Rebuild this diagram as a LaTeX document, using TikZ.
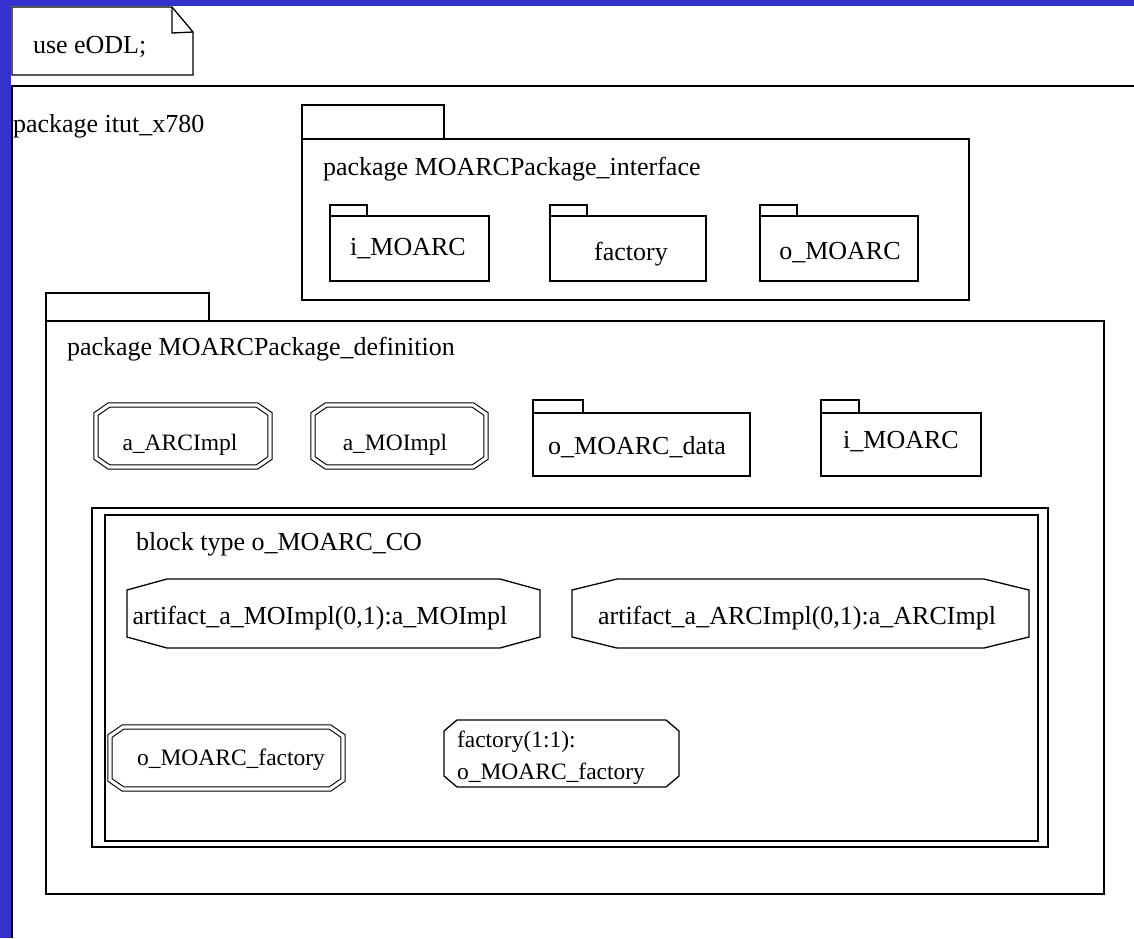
\documentclass[tikz,border=0pt]{standalone}
\usepackage{fontspec}
\setmainfont{Liberation Serif}
\definecolor{bgblue}{RGB}{51,51,204}
\newcommand\octo[4][]{\draw[#1] ([xshift=#3]#2.north west) -- ([xshift=-#3]#2.north east) -- ([yshift=-#4]#2.north east) -- ([yshift=#4]#2.south east) -- ([xshift=-#3]#2.south east) -- ([xshift=#3]#2.south west) -- ([yshift=#4]#2.south west) -- ([yshift=-#4]#2.north west) -- cycle;}
\begin{document}
\begin{tikzpicture}[x=1pt,y=-1pt,
  line width=1.3pt,
  every node/.style={font=\fontsize{26}{30}\selectfont, inner sep=0pt, outer sep=0pt},
  lbl/.style={anchor=base west},
  clbl/.style={anchor=base},
  smallclbl/.style={anchor=base, font=\fontsize{23.5}{30}\selectfont},
  box/.style={draw, rectangle, anchor=north west},
  area/.style={rectangle},
  dbl/.style={double, double distance=3.2pt, line width=1.1pt}
]
\useasboundingbox (0,0) rectangle (1134,938);
\fill[bgblue] (0,0) rectangle (1134,938);
\fill[white] (11,6) rectangle (1134,938);

% note
\coordinate (n1) at (12,7);
\coordinate (n2) at (172,7);
\coordinate (n3) at (193,32);
\coordinate (n4) at (193,75);
\coordinate (n5) at (12,75);
\draw (n1) -- (n2) -- (n3) -- (n4) -- (n5) -- cycle;
\draw (n2) -- (172,33) -- (n3);
\node[lbl] (uselbl) at (33,53) {use eODL;};

% outer frame
\draw (1134,86) -- (12,86) -- (12,938);
\node[lbl] (itut) at (13,132) {package itut\_x780};

% interface package
\node[box, minimum width=667pt, minimum height=161pt] (ifc) at (302,139) {};
\draw (ifc.north west) rectangle ++(142,-34);
\node[lbl] (ifclbl) at (323,175) {package MOARCPackage\_interface};

\node[box, minimum width=159pt, minimum height=65pt] (ia) at (330,216) {};
\draw (ia.north west) rectangle ++(37,-11);
\node[clbl] (ialbl) at (408,255) {i\_MOARC};
\node[box, minimum width=156pt, minimum height=65pt] (ib) at (550,216) {};
\draw (ib.north west) rectangle ++(37,-11);
\node[clbl] (iblbl) at (631,260) {factory};
\node[box, minimum width=158pt, minimum height=65pt] (ic) at (760,216) {};
\draw (ic.north west) rectangle ++(37,-11);
\node[clbl] (iclbl) at (840,259) {o\_MOARC};

% definition package
\node[box, minimum width=1058pt, minimum height=573pt] (def) at (46,321) {};
\draw (def.north west) rectangle ++(163,-28);
\node[lbl] (deflbl) at (67,355) {package MOARCPackage\_definition};

\node[area, minimum width=174pt, minimum height=62pt] (arc) at (183,436) {};
\octo[dbl]{arc}{13pt}{9pt}
\node[smallclbl] (arclbl) at (180,450) {a\_ARCImpl};
\node[area, minimum width=173pt, minimum height=62pt] (moi) at (399.5,436) {};
\octo[dbl]{moi}{13pt}{9pt}
\node[smallclbl] (moilbl) at (395,450) {a\_MOImpl};

\node[box, minimum width=217pt, minimum height=63pt] (od) at (533,413) {};
\draw (od.north west) rectangle ++(50,-13);
\node[clbl] (odlbl) at (637,454) {o\_MOARC\_data};
\node[box, minimum width=160pt, minimum height=63pt] (im) at (821,413) {};
\draw (im.north west) rectangle ++(38,-13);
\node[clbl] (imlbl) at (901,448) {i\_MOARC};

% block type
\node[draw, rectangle, anchor=north west, minimum width=956pt, minimum height=339pt] (blk) at (92,508) {};
\node[draw, rectangle, anchor=north west, minimum width=933pt, minimum height=326pt] (blkin) at (105,515) {};
\node[lbl] (blklbl) at (136,550) {block type o\_MOARC\_CO};

\node[area, minimum width=413pt, minimum height=69pt] (art1) at (333.5,613.5) {};
\octo{art1}{40pt}{11pt}
\node[clbl] (art1lbl) at (320,624) {artifact\_a\_MOImpl(0,1):a\_MOImpl};
\node[area, minimum width=457pt, minimum height=69pt] (art2) at (800.5,613.5) {};
\octo{art2}{45pt}{11pt}
\node[clbl] (art2lbl) at (797,624) {artifact\_a\_ARCImpl(0,1):a\_ARCImpl};

\node[area, minimum width=233pt, minimum height=62pt] (ofac) at (226.5,758) {};
\octo[dbl]{ofac}{13pt}{9pt}
\node[smallclbl] (ofaclbl) at (231,765) {o\_MOARC\_factory};

\node[area, minimum width=235pt, minimum height=67pt] (fac) at (561.5,753.5) {};
\octo{fac}{13pt}{11pt}
\node[anchor=base west, font=\fontsize{23.5}{30}\selectfont] (faclbl1) at (457,747) {factory(1:1):};
\node[anchor=base west, font=\fontsize{23.5}{30}\selectfont] (faclbl2) at (457,779) {o\_MOARC\_factory};
\end{tikzpicture}
\end{document}
